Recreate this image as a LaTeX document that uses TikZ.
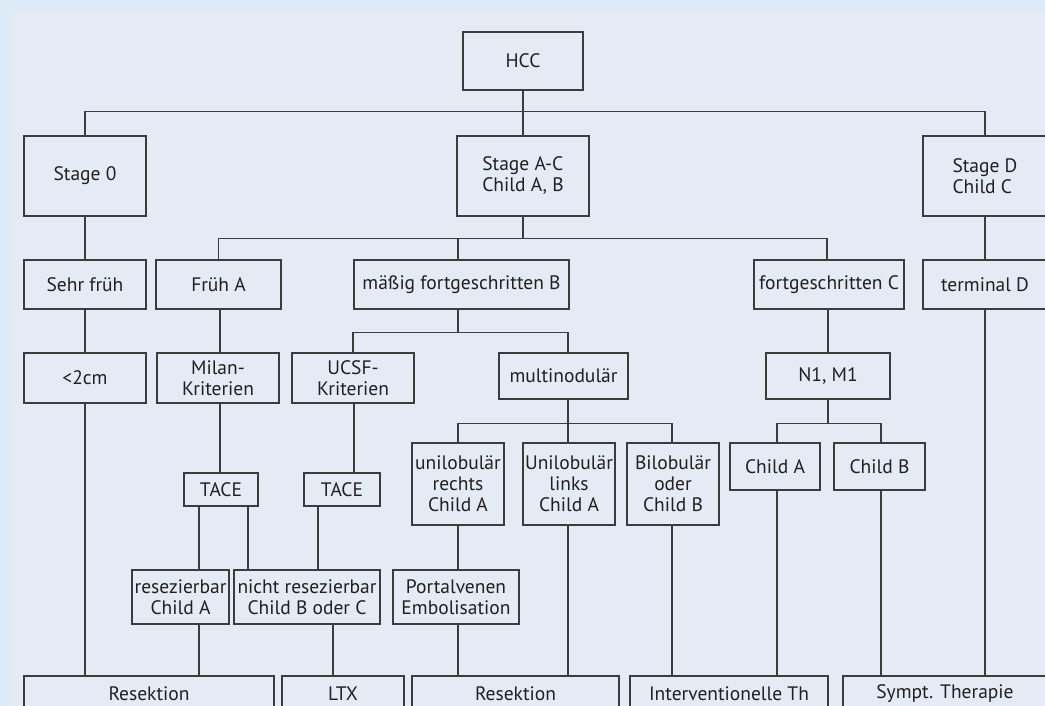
\documentclass[tikz,border=0pt]{standalone}
\usepackage{fontspec}
\setmainfont{PT Sans}
\usepackage{tikz}
\usetikzlibrary{positioning}
\definecolor{outerbg}{HTML}{DDEAF7}
\definecolor{innerbg}{HTML}{E4EBF5}
\definecolor{linecol}{HTML}{3C3C3C}
\definecolor{textcol}{HTML}{231F20}
\tikzstyle{box} = [rectangle, draw=linecol, line width=1.1pt, text=textcol, align=center, inner sep=0pt, font=\fontsize{19.5}{21}\selectfont]
\tikzstyle{stage} = [box, align=left]
\tikzstyle{line} = [draw=linecol, line width=1.1pt]

\begin{document}
\begin{tikzpicture}[x=1pt, y=-1pt]
\clip (0,0) rectangle (1045,706);
\fill[outerbg] (0,0) rectangle (1045,706);
\fill[innerbg] (9,11) rectangle (1060,720);
\node (HCC) [box, minimum width=120, minimum height=58] at (523,61) {HCC};
\node (S0) [stage, minimum width=122, minimum height=80] at (85,176) {Stage 0};
\node (SAC) [stage, minimum width=132, minimum height=80] at (523,176) {Stage A-C\\Child A, B};
\node (SD) [stage, minimum width=124, minimum height=80] at (985,176) {Stage D\\Child C};
\node (sehr) [box, minimum width=122, minimum height=49] at (85,284.5) {Sehr früh};
\node (frueh) [box, minimum width=125, minimum height=49] at (218.5,284.5) {Früh A};
\node (maessig) [box, minimum width=215, minimum height=49] at (461.5,284.5) {mäßig fortgeschritten B};
\node (fortC) [box, minimum width=150, minimum height=49] at (829,284.5) {fortgeschritten C};
\node (termD) [box, minimum width=124, minimum height=49] at (985,284.5) {terminal D};
\node (lt2) [box, minimum width=122, minimum height=50] at (85,378) {<2cm};
\node (milan) [box, minimum width=122, minimum height=50] at (218,378) {Milan-\\Kriterien};
\node (ucsf) [box, minimum width=122, minimum height=50] at (353,378) {UCSF-\\Kriterien};
\node (multi) [box, minimum width=129, minimum height=46] at (563.5,376) {multinodulär};
\node (n1m1) [box, minimum width=124, minimum height=46] at (828,376) {N1, M1};
\node (tace1) [box, minimum width=74, minimum height=33] at (221,489.5) {TACE};
\node (tace2) [box, minimum width=76, minimum height=33] at (342,489.5) {TACE};
\node (ur) [box, minimum width=92, minimum height=82] at (458,484) {unilobulär\\rechts\\Child A};
\node (ul) [box, minimum width=92, minimum height=82] at (569,484) {Unilobulär\\links\\Child A};
\node (bi) [box, minimum width=92, minimum height=82] at (673,484) {Bilobulär\\oder\\Child B};
\node (chA) [box, minimum width=90, minimum height=47] at (775,466.5) {Child A};
\node (chB) [box, minimum width=91, minimum height=47] at (879.5,466.5) {Child B};
\node (resez) [box, minimum width=97, minimum height=54] at (180.5,597) {resezierbar\\Child A};
\node (nrs) [box, minimum width=146, minimum height=54] at (307,597) {nicht resezierbar\\Child B oder C};
\node (pv) [box, minimum width=126, minimum height=54] at (456,597) {Portalvenen\\Embolisation};
\node (res1) [box, minimum width=250, minimum height=36] at (149,694) {Resektion};
\node (ltx) [box, minimum width=122, minimum height=36] at (343,694) {LTX};
\node (res2) [box, minimum width=207, minimum height=36] at (515.5,694) {Resektion};
\node (int) [box, minimum width=198, minimum height=36] at (729,694) {Interventionelle Th};
\node (sym) [box, minimum width=204, minimum height=36] at (945,694) {Sympt. Therapie};
\draw [line] (HCC) -- (SAC);
\draw [line] (S0.north) -- ++(0,-24) -| (SD.north);
\draw [line] (SAC.south) -- ++(0,22) -| (frueh.north);
\draw [line] (SAC.south) -- ++(0,22) -| ([xshift=-3.5pt]maessig.north);
\draw [line] (SAC.south) -- ++(0,22) -| ([xshift=-2pt]fortC.north);
\draw [line] (S0) -- (sehr);
\draw [line] (sehr) -- (lt2);
\draw [line] (lt2.south) -- (lt2.south |- res1.north);
\draw [line] (frueh.south -| 220,0) -- (milan.north -| 220,0);
\draw [line] (milan.south -| 220,0) -- (tace1.north -| 220,0);
\draw [line] ([xshift=-3.5pt]maessig.south) -- ++(0,23) -| (ucsf.north);
\draw [line] ([xshift=-3.5pt]maessig.south) -- ++(0,23) -| ([xshift=4.5pt]multi.north);
\draw [line] (ucsf.south -| 354,0) -- (tace2.north -| 354,0);
\draw [line] (tace1.south -| 199,0) -- (resez.north -| 199,0);
\draw [line] (tace1.south -| 248,0) -- (nrs.north -| 248,0);
\draw [line] (tace2.south -| 318,0) -- (nrs.north -| 318,0);
\draw [line] (resez.south -| 199,0) -- (res1.north -| 199,0);
\draw [line] (nrs.south -| 333,0) -- (ltx.north -| 333,0);
\draw [line] ([xshift=4.5pt]multi.south) -- ++(0,24) -| (ur.north);
\draw [line] ([xshift=4.5pt]multi.south) -- ++(0,24) -| ([xshift=-1pt]bi.north);
\draw [line] ([xshift=4.5pt]multi.south) -- (ul.north -| 568,0);
\draw [line] (ur) -- (pv.north -| 458,0);
\draw [line] (pv.south -| 458,0) -- (res2.north -| 458,0);
\draw [line] (ul.south -| 568,0) -- (res2.north -| 568,0);
\draw [line] (bi.south -| 672,0) -- (int.north -| 672,0);
\draw [line] (fortC.south -| 828,0) -- (n1m1.north -| 828,0);
\draw [line] (n1m1.south) -- ++(0,24) -| ([xshift=2pt]chA.north);
\draw [line] (n1m1.south) -- ++(0,24) -| ([xshift=1.5pt]chB.north);
\draw [line] ([xshift=2pt]chA.south) -- (int.north -| 777,0);
\draw [line] ([xshift=1.5pt]chB.south) -- (sym.north -| 881,0);
\draw [line] (SD) -- (termD);
\draw [line] (termD.south) -- (sym.north -| 985,0);
\end{tikzpicture}
\end{document}
